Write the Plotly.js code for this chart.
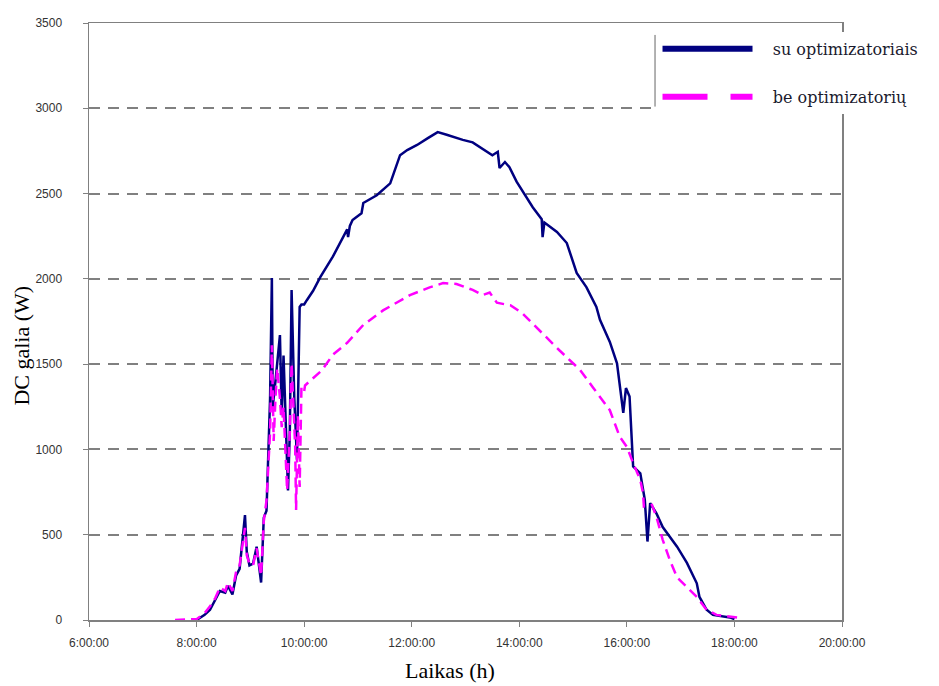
<!DOCTYPE html>
<html>
<head>
<meta charset="utf-8">
<script src="https://cdn.plot.ly/plotly-3.0.1.min.js"></script>
<style>html,body{margin:0;padding:0;background:#fff;}#chart{width:939px;height:686px;}</style>
</head>
<body>
<div id="chart"></div>
<script>
// ---- data ----
var seriesNames = ["su optimizatoriais", "be optimizatorių"];

var timesWith = ["8:00","8:09","8:15","8:21","8:26","8:32","8:35","8:40","8:44","8:48","8:54","8:56","8:59","9:03","9:07","9:12","9:15","9:18","9:22","9:24","9:25","9:28","9:33","9:35","9:37","9:42","9:44","9:46","9:49","9:52","9:54","9:55","9:57","10:00","10:03","10:10","10:18","10:32","10:48","10:49","10:51","10:54","11:04","11:06","11:21","11:36","11:40","11:47","11:55","12:06","12:18","12:29","12:39","12:50","12:57","13:08","13:19","13:30","13:36","13:38","13:44","13:49","13:57","14:08","14:15","14:25","14:26","14:28","14:42","14:53","15:04","15:15","15:26","15:30","15:41","15:49","15:52","15:56","15:59","16:03","16:06","16:07","16:15","16:20","16:23","16:26","16:33","16:40","16:56","17:07","17:18","17:21","17:29","17:36","17:55","18:00"];
var powerWith = [0,30,60,120,170,160,200,150,260,300,615,400,320,330,430,220,600,640,1300,2005,1250,1400,1670,1200,1550,760,1100,1935,1300,940,1500,1835,1850,1850,1875,1930,2010,2130,2290,2245,2310,2345,2385,2445,2490,2560,2620,2725,2755,2785,2825,2860,2845,2825,2815,2800,2765,2725,2745,2650,2685,2655,2570,2480,2420,2350,2245,2330,2275,2210,2035,1950,1835,1760,1630,1505,1390,1215,1360,1310,1000,900,860,705,460,685,625,545,430,335,215,135,60,30,15,5];

var timesWithout = ["7:36","8:00","8:09","8:15","8:21","8:26","8:32","8:35","8:40","8:44","8:48","8:54","8:56","8:59","9:03","9:07","9:12","9:15","9:18","9:22","9:24","9:26","9:28","9:30","9:33","9:35","9:37","9:41","9:44","9:46","9:50","9:51","9:53","9:55","9:57","10:00","10:01","10:10","10:20","10:32","10:48","11:06","11:28","11:58","12:20","12:35","12:50","13:08","13:19","13:27","13:35","13:50","14:03","14:45","15:08","15:22","15:41","15:52","16:00","16:07","16:15","16:18","16:19","16:28","16:33","16:40","16:48","16:56","17:07","17:18","17:29","17:40","18:03","18:09"];
var powerWithout = [0,5,40,80,130,190,170,220,170,280,320,540,380,330,320,420,260,580,700,1100,1610,1050,1300,1475,1300,1130,1250,760,1100,1505,1015,645,1200,780,1365,1340,1375,1420,1465,1555,1625,1730,1815,1905,1950,1975,1970,1935,1905,1920,1860,1845,1800,1580,1465,1365,1230,1075,1015,920,820,745,665,675,605,470,350,250,195,135,60,30,15,10];

var xTickVals = [6,8,10,12,14,16,18,20];
var xTickText = ["6:00:00","8:00:00","10:00:00","12:00:00","14:00:00","16:00:00","18:00:00","20:00:00"];
var yTickVals = [0,500,1000,1500,2000,2500,3000,3500];

function toHours(s){ var p = s.split(":"); return +p[0] + (+p[1])/60; }

var navy = "#000080", magenta = "#ff00ff";
var pad = "\u00a0\u00a0\u00a0";

var traces = [
  {x: timesWith.map(toHours), y: powerWith, type: "scatter", mode: "lines",
   line: {color: navy, width: 2.5}, showlegend: false},
  {x: timesWithout.map(toHours), y: powerWithout, type: "scatter", mode: "lines",
   line: {color: magenta, width: 2.5, dash: "10px,6px"}, showlegend: false},
  // legend entries (thicker symbols as in the original)
  {x: [null], y: [null], type: "scatter", mode: "lines", name: pad + seriesNames[0],
   legendgroup: "a", line: {color: navy, width: 6}},
  {x: [null], y: [null], type: "scatter", mode: "lines", name: pad + seriesNames[1],
   legendgroup: "b", line: {color: magenta, width: 6, dash: "45px,23px"}}
];

var gridCol = "#808080";
var layout = {
  width: 939, height: 686,
  margin: {l: 89, r: 97, t: 23, b: 66},
  paper_bgcolor: "#fff", plot_bgcolor: "#fff",
  font: {family: "Liberation Sans, Arial, sans-serif", size: 11, color: "#333"},
  xaxis: {
    range: [6, 20], tickmode: "array", tickvals: xTickVals, ticktext: xTickText,
    showgrid: false, zeroline: false, showline: true, linecolor: gridCol, linewidth: 1.5,
    mirror: true, ticks: "outside", ticklen: 5, tickcolor: gridCol,
    ticklabelstandoff: 6,
    tickfont: {size: 12, color: "#333"}
  },
  yaxis: {
    range: [0, 3500], tickmode: "array", tickvals: yTickVals,
    ticklabelposition: "outside", ticklabelstandoff: 18,
    showgrid: true, gridcolor: gridCol, gridwidth: 2, griddash: "11px,8px",
    zeroline: false, showline: true, linecolor: gridCol, linewidth: 1.5, mirror: true,
    ticks: "outside", ticklen: 5, tickcolor: gridCol,
    tickfont: {size: 12, color: "#333"}
  },
  legend: {
    x: 0.755, y: 0.985, xanchor: "left", yanchor: "top",
    bgcolor: "#fff", borderwidth: 0,
    font: {family: "DejaVu Serif, serif", size: 16, color: "#1a1a2e"},
    itemwidth: 90, traceorder: "grouped", tracegroupgap: 24
  },
  annotations: [
    {text: "DC galia (W)", xref: "paper", yref: "paper", x: -0.09, y: 0.46,
     textangle: -90, showarrow: false, xanchor: "center", yanchor: "middle",
     font: {family: "Liberation Serif, Times New Roman, serif", size: 22, color: "#000"}},
    {text: "Laikas (h)", xref: "paper", yref: "paper", x: 0.48, y: -0.085,
     showarrow: false, xanchor: "center", yanchor: "middle",
     font: {family: "Liberation Serif, Times New Roman, serif", size: 22, color: "#000"}}
  ],
  shapes: [
    {type: "line", xref: "paper", yref: "paper", x0: 0.7517, x1: 0.7517, y0: 0.86, y1: 0.98,
     line: {color: "#666", width: 1}}
  ],
  showlegend: true
};

Plotly.newPlot("chart", traces, layout, {displayModeBar: false, staticPlot: true});
</script>
</body>
</html>
